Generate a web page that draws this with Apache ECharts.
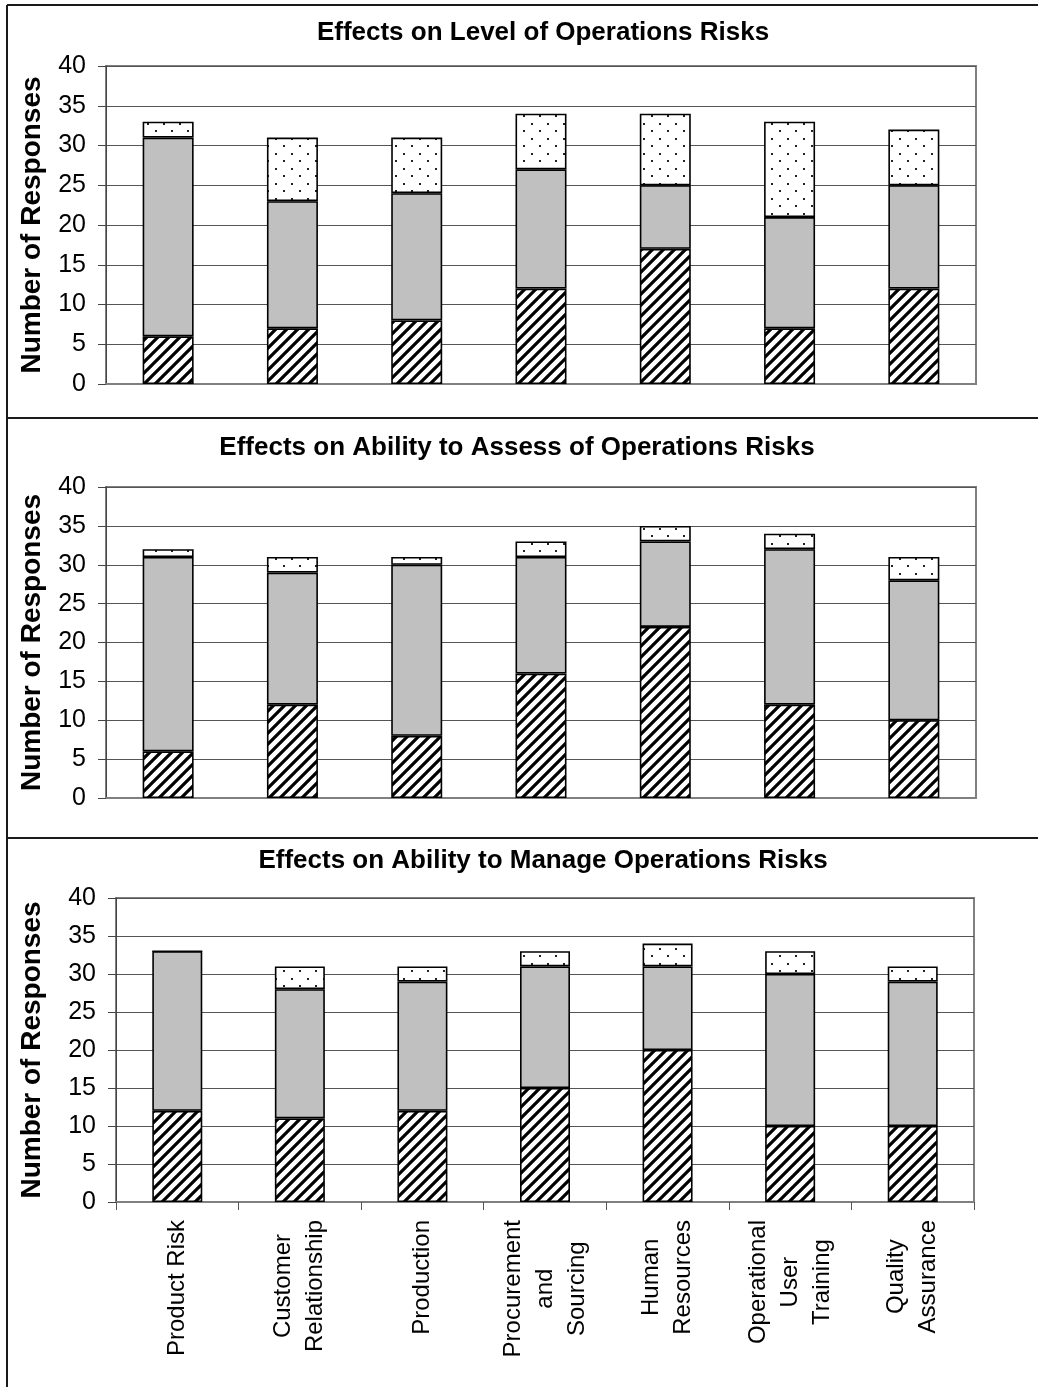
<!DOCTYPE html>
<html>
<head>
<meta charset="utf-8">
<title>Effects on Operations Risks</title>
<script src="https://cdn.jsdelivr.net/npm/echarts@6/dist/echarts.min.js"></script>
<style>
  html, body { margin: 0; padding: 0; background: #fff; }
  #chart { width: 1038px; height: 1387px; }
</style>
</head>
<body>
<div id="chart"></div>
<script>
// Risk areas along the shared category axis
const categories = [
  'Product Risk',
  'Customer\nRelationship',
  'Production',
  'Procurement\nand\nSourcing',
  'Human\nResources',
  'Operational\nUser\nTraining',
  'Quality\nAssurance'
];

const panelTitles = [
  'Effects on Level of Operations Risks',
  'Effects on Ability to Assess of Operations Risks',
  'Effects on Ability to Manage Operations Risks'
];

const yAxisTitle = 'Number of Responses';

// Level of operations risks (striped / grey / dotted segments, bottom to top)
const levelStriped = [6, 7, 8, 12, 17, 7, 12];
const levelGrey    = [25, 16, 16, 15, 8, 14, 13];
const levelDotted  = [2, 8, 7, 7, 9, 12, 7];

// Ability to assess operations risks
const assessStriped = [6, 12, 8, 16, 22, 12, 10];
const assessGrey    = [25, 17, 22, 15, 11, 20, 18];
const assessDotted  = [1, 2, 1, 2, 2, 2, 3];

// Ability to manage operations risks
const manageStriped = [12, 11, 12, 15, 20, 10, 10];
const manageGrey    = [21, 17, 17, 16, 11, 20, 19];
const manageDotted  = [0, 3, 2, 2, 3, 3, 2];

// Value axis range
const yMin = 0, yMax = 40, yStep = 5;

const FONT = '"Liberation Sans", Arial, sans-serif';

// Fill patterns for the segments
function stripeTile() {
  const s = 11;
  const c = document.createElement('canvas');
  c.width = s; c.height = s;
  const g = c.getContext('2d');
  g.fillStyle = '#fff';
  g.fillRect(0, 0, s, s);
  g.strokeStyle = '#000';
  g.lineWidth = 3.2;
  g.lineCap = 'square';
  g.beginPath();
  g.moveTo(-s, 2 * s); g.lineTo(2 * s, -s);
  g.moveTo(-s, s); g.lineTo(s, -s);
  g.moveTo(0, 2 * s); g.lineTo(2 * s, 0);
  g.stroke();
  return c;
}
function dotTile() {
  const w = 16, h = 15;
  const c = document.createElement('canvas');
  c.width = w; c.height = h;
  const g = c.getContext('2d');
  g.fillStyle = '#fff';
  g.fillRect(0, 0, w, h);
  g.fillStyle = '#222';
  g.fillRect(3, 3, 2, 2);
  g.fillRect(11, 10, 2, 2);
  return c;
}
const stripeFill = { image: stripeTile(), repeat: 'repeat' };
const dotFill = { image: dotTile(), repeat: 'repeat' };
const greyFill = '#c0c0c0';

// Plot rectangles for the three stacked panels
const panels = [
  { left: 106, top: 66,  width: 870, height: 318, barWidth: 51, gap: 60, titleX: 543, titleY: 20,
    data: [levelStriped, levelGrey, levelDotted], showCats: false },
  { left: 106, top: 487, width: 870, height: 311, barWidth: 51, gap: 60, titleX: 517, titleY: 435,
    data: [assessStriped, assessGrey, assessDotted], showCats: false },
  { left: 116, top: 898, width: 858, height: 304, barWidth: 50, gap: 70, titleX: 543, titleY: 848,
    data: [manageStriped, manageGrey, manageDotted], showCats: true }
];

const grids = [], xAxes = [], yAxes = [], series = [], titles = [];
const segmentFills = [stripeFill, greyFill, dotFill];
const segmentNames = ['Striped', 'Grey', 'Dotted'];

panels.forEach((p, i) => {
  titles.push({
    text: panelTitles[i],
    left: p.titleX,
    top: p.titleY,
    textAlign: 'center',
    padding: 0,
    textStyle: { fontFamily: FONT, fontSize: 26, fontWeight: 'bold', color: '#000' }
  });
  grids.push({
    left: p.left, top: p.top, width: p.width, height: p.height,
    show: true, borderColor: '#808080', borderWidth: 2, backgroundColor: 'transparent',
    containLabel: false, outerBoundsMode: 'none'
  });
  xAxes.push({
    type: 'category',
    gridIndex: i,
    data: categories,
    boundaryGap: true,
    axisLine: { show: true, lineStyle: { color: '#808080', width: 2 } },
    axisTick: { show: p.showCats, length: 8, lineStyle: { color: '#555', width: 1 } },
    axisLabel: p.showCats ? {
      show: true,
      interval: 0,
      rotate: 90,
      margin: 18,
      color: '#000',
      fontFamily: FONT,
      fontSize: 24,
      lineHeight: 32,
      formatter: v => v.split('\n').map(s => '{c|' + s + '}').join('\n'),
      rich: { c: { align: 'center', fontFamily: FONT, fontSize: 24, lineHeight: 32, color: '#000' } }
    } : { show: false },
    splitLine: { show: false }
  });
  yAxes.push({
    type: 'value',
    gridIndex: i,
    min: yMin, max: yMax, interval: yStep,
    name: yAxisTitle,
    nameLocation: 'middle',
    nameRotate: 90,
    nameGap: p.gap,
    nameTextStyle: { fontFamily: FONT, fontSize: 28, fontWeight: 'bold', color: '#000' },
    axisLine: { show: true, lineStyle: { color: '#444', width: 1 } },
    axisTick: { show: true, length: 8, lineStyle: { color: '#444', width: 1 } },
    axisLabel: { margin: 20, color: '#000', fontFamily: FONT, fontSize: 25 },
    splitLine: { show: true, lineStyle: { color: '#555', width: 1 } }
  });
  p.data.forEach((vals, k) => {
    series.push({
      name: segmentNames[k],
      type: 'bar',
      stack: 'panel' + i,
      xAxisIndex: i,
      yAxisIndex: i,
      barWidth: p.barWidth,
      data: vals,
      itemStyle: { color: segmentFills[k], borderColor: '#000', borderWidth: 1.6 },
      emphasis: { disabled: true },
      animation: false
    });
  });
});

// Frame around the panels
const frameStyle = { stroke: '#1a1a1a', lineWidth: 2 };
const frame = [
  { type: 'line', shape: { x1: 7, y1: 5, x2: 7, y2: 1387 }, style: frameStyle, silent: true },
  { type: 'line', shape: { x1: 7, y1: 5, x2: 1038, y2: 5 }, style: frameStyle, silent: true },
  { type: 'line', shape: { x1: 7, y1: 418, x2: 1038, y2: 418 }, style: frameStyle, silent: true },
  { type: 'line', shape: { x1: 7, y1: 838, x2: 1038, y2: 838 }, style: frameStyle, silent: true }
];

const chart = echarts.init(document.getElementById('chart'), null, { renderer: 'canvas' });
chart.setOption({
  animation: false,
  backgroundColor: '#fff',
  title: titles,
  grid: grids,
  xAxis: xAxes,
  yAxis: yAxes,
  series: series,
  graphic: frame
});
</script>
</body>
</html>
